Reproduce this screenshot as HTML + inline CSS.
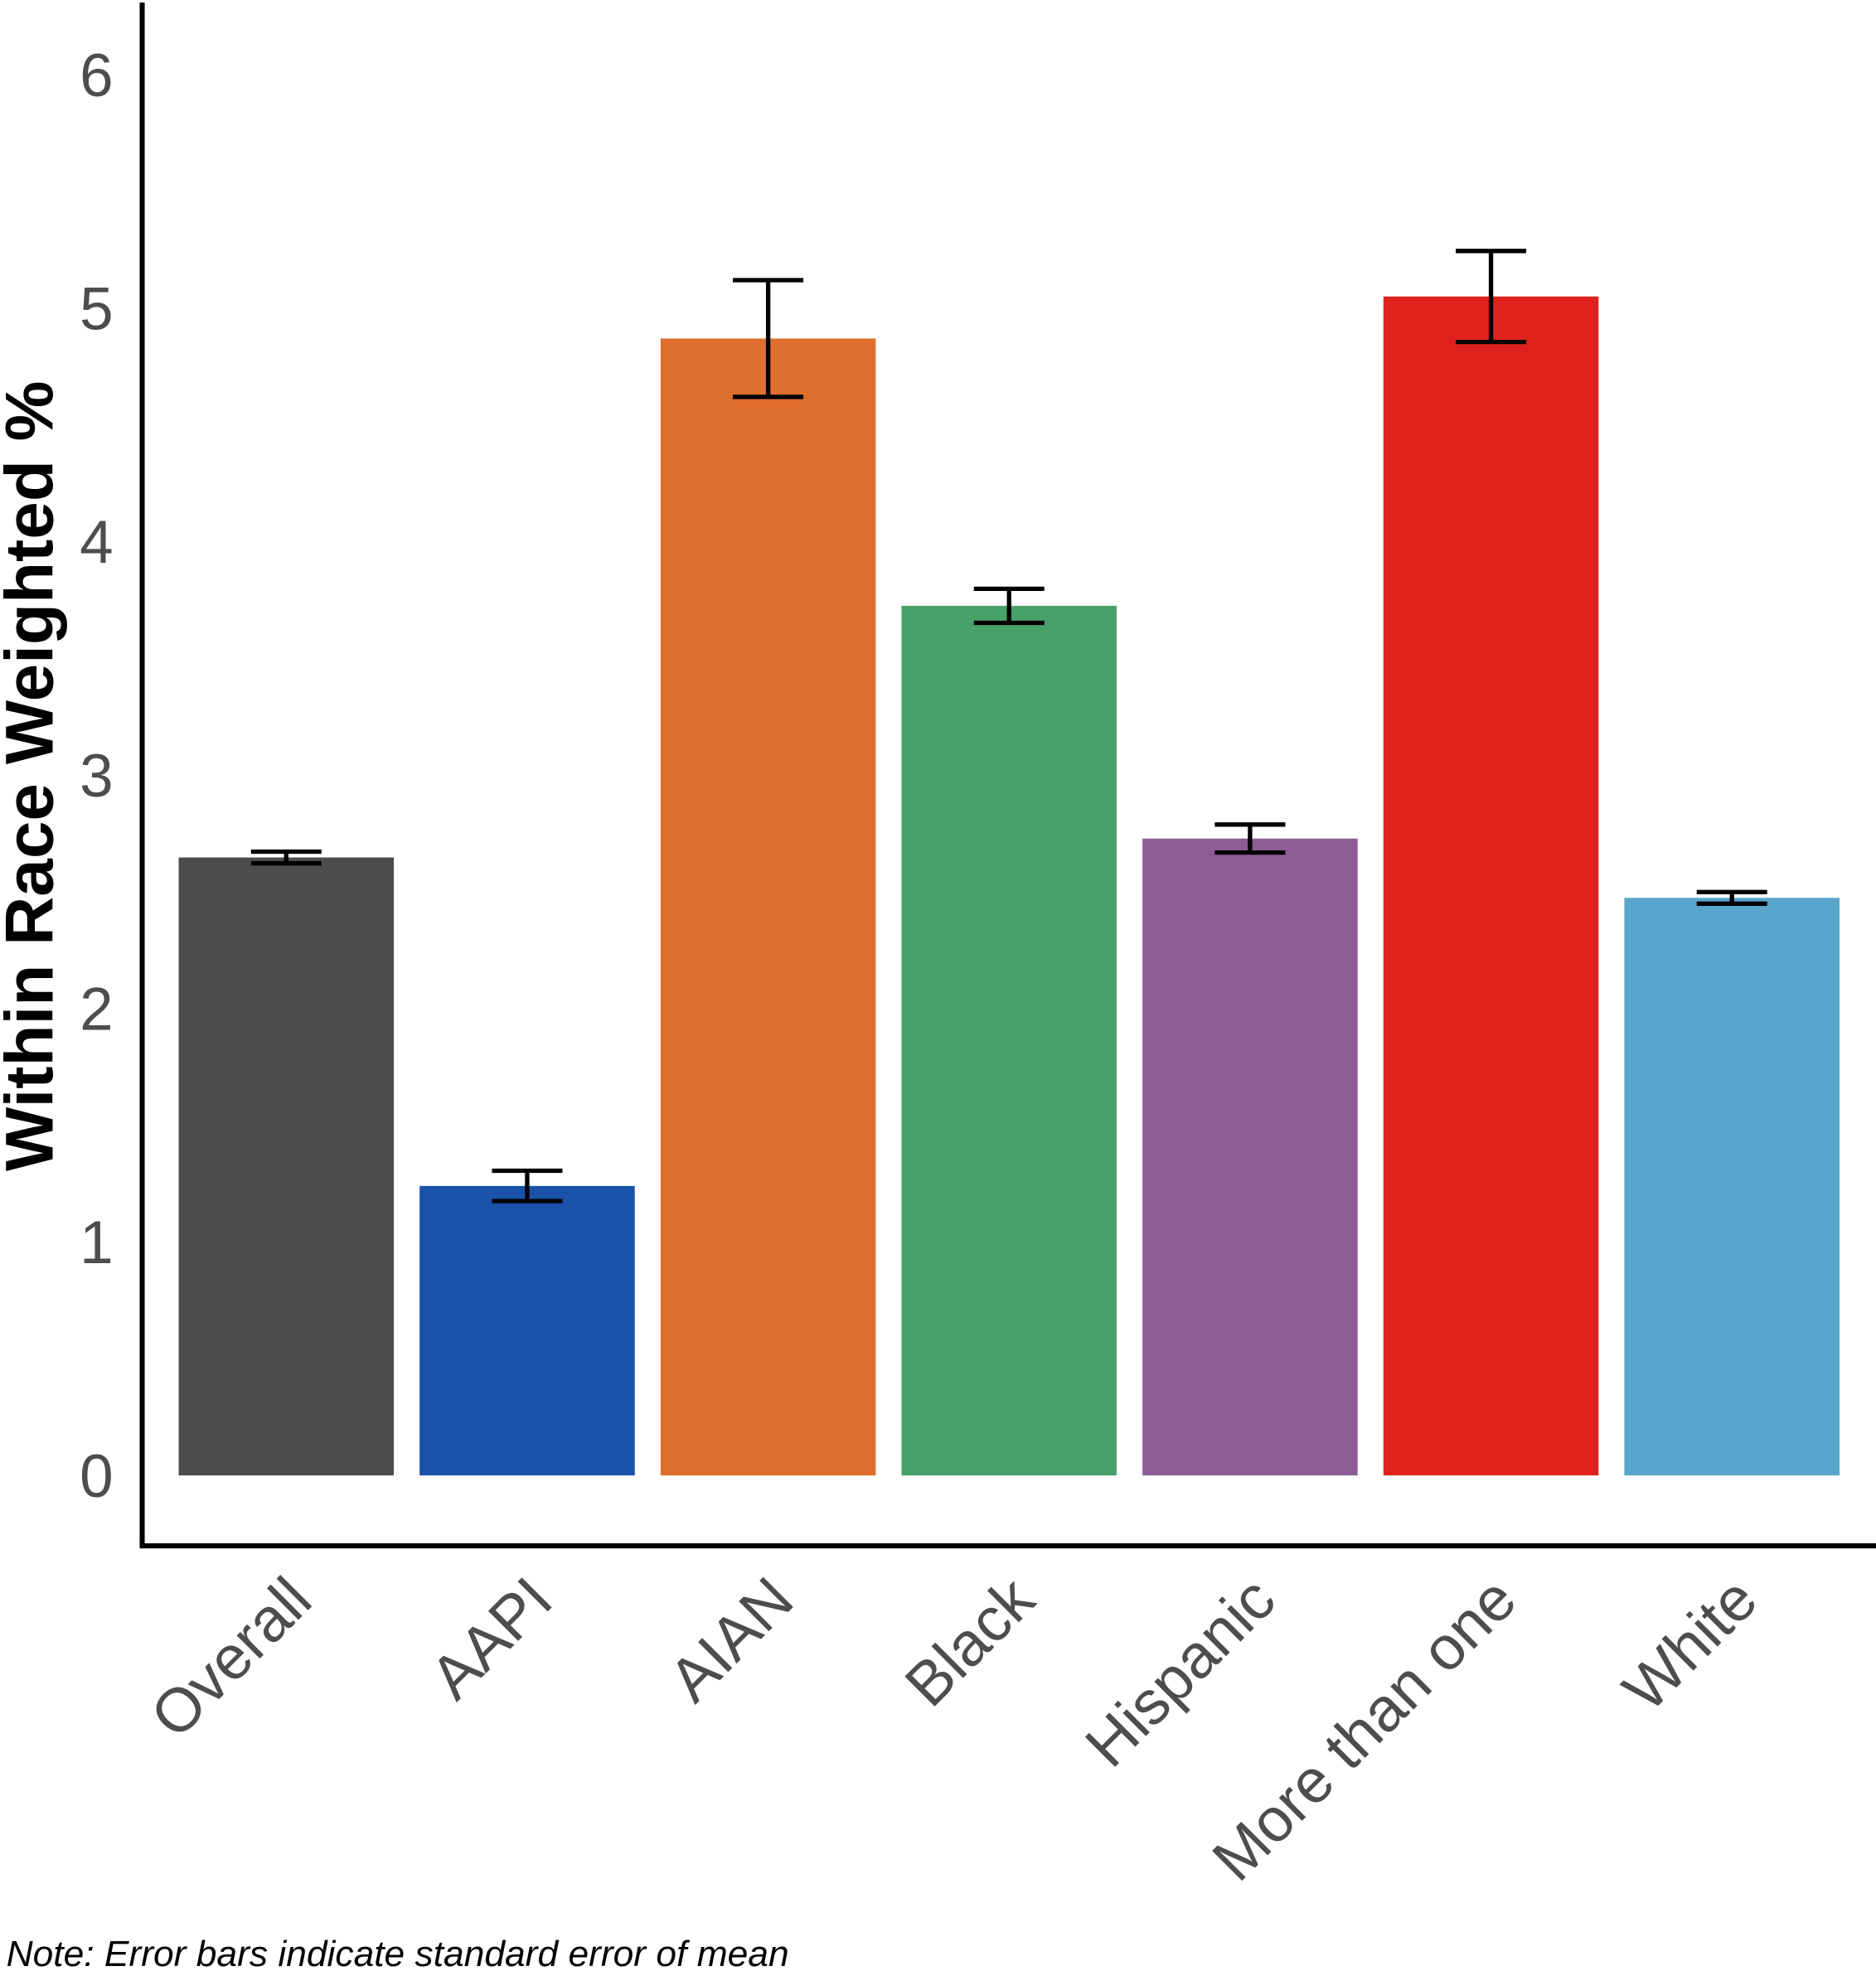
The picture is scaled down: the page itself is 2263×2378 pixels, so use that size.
<!DOCTYPE html>
<html><head><meta charset="utf-8">
<style>
html,body{margin:0;padding:0;background:#fff;}
svg{display:block;}
</style></head>
<body>
<svg id="chart" xmlns="http://www.w3.org/2000/svg" width="2263" height="2378" viewBox="0 0 1491 1567" preserveAspectRatio="none" font-family="Liberation Sans, Arial, sans-serif">
  <text transform="translate(42,617) rotate(-90)" text-anchor="middle" font-size="54" font-weight="bold" fill="#000">Within Race Weighted %</text>
  <g id="yticks"></g>
  <g id="bars"></g>
  <g id="errs"></g>
  <g id="xlabels"></g>
  <line x1="113" y1="2" x2="113" y2="1230" stroke="#000" stroke-width="4"/>
  <line x1="111" y1="1229" x2="1491" y2="1229" stroke="#000" stroke-width="4"/>
  <text x="5" y="1563" font-size="29" font-style="italic" fill="#000" textLength="622" lengthAdjust="spacingAndGlyphs">Note: Error bars indicate standard error of mean</text>
</svg>
<script>
const categories = ["Overall","AAPI","AIAN","Black","Hispanic","More than one","White"];
const values = [2.647, 1.24, 4.87, 3.725, 2.728, 5.05, 2.474];
const errors = [0.025, 0.065, 0.25, 0.073, 0.06, 0.195, 0.025];
const colors = ["#4d4d4d","#1a52a9","#df6f2e","#48a169","#8d5c96","#e0221e","#58a6cc"];
const yTicks = [0,1,2,3,4,5,6];

const NS = "http://www.w3.org/2000/svg";
const y0 = 1173, pxPerUnit = 185.6;
function y(v){ return y0 - v * pxPerUnit; }
const xStart = 142, step = 191.5, barW = 171;
function xc(i){ return xStart + i*step + barW/2; }

const yt = document.getElementById("yticks");
yTicks.forEach(t=>{
  const tx = document.createElementNS(NS,"text");
  
  
  tx.setAttribute("x", 90); tx.setAttribute("y", y(t)+17);
  tx.setAttribute("text-anchor","end"); tx.setAttribute("font-size","48"); tx.setAttribute("fill","#4d4d4d");
  tx.textContent = t; yt.appendChild(tx);
});

const bg = document.getElementById("bars"), eg = document.getElementById("errs"), xg = document.getElementById("xlabels");
categories.forEach((c,i)=>{
  const r = document.createElementNS(NS,"rect");
  
  
  r.setAttribute("x", xc(i)-barW/2); r.setAttribute("width", barW);
  r.setAttribute("y", y(values[i])); r.setAttribute("height", y(0)-y(values[i]));
  r.setAttribute("fill", colors[i]); bg.appendChild(r);

  const hi = y(values[i]+errors[i]), lo = y(values[i]-errors[i]), cx = xc(i);
  const p = document.createElementNS(NS,"path");
  
  
  p.setAttribute("d", `M${cx-28},${hi}H${cx+28}M${cx},${hi}V${lo}M${cx-28},${lo}H${cx+28}`);
  p.setAttribute("stroke","#000"); p.setAttribute("stroke-width","3.5"); p.setAttribute("fill","none");
  eg.appendChild(p);

  const tx = document.createElementNS(NS,"text");
  
  
  tx.setAttribute("transform", `translate(${cx-2},${1250}) rotate(-45)`);
  tx.setAttribute("text-anchor","end"); tx.setAttribute("font-size","49"); tx.setAttribute("fill","#4d4d4d");
  tx.setAttribute("dy","35");
  tx.textContent = c; xg.appendChild(tx);
});
</script>
</body></html>
